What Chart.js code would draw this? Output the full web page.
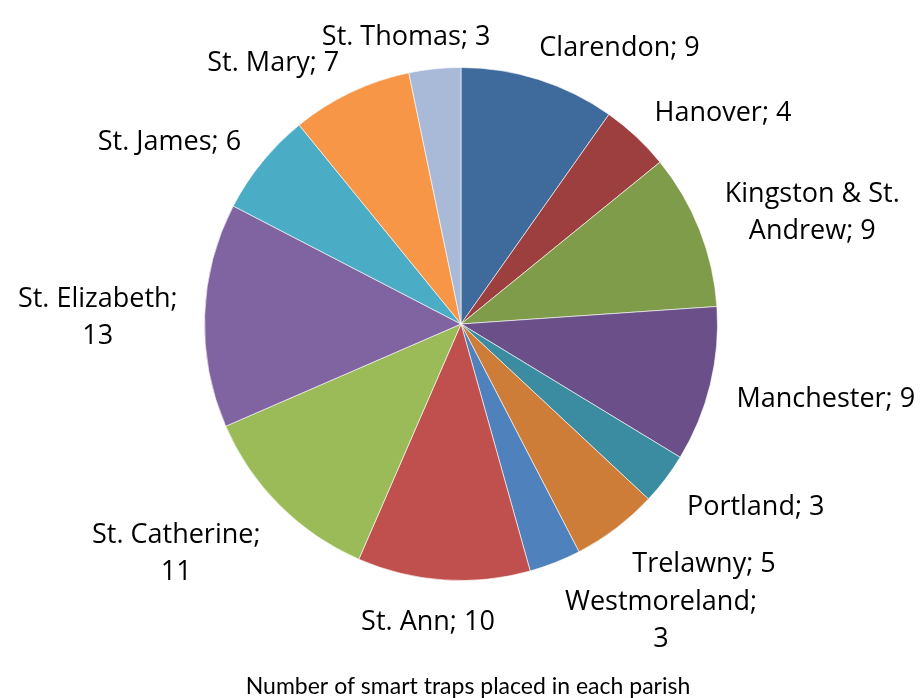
<!DOCTYPE html>
<html>
<head>
<meta charset="utf-8">
<script src="https://cdn.jsdelivr.net/npm/chart.js@4/dist/chart.umd.min.js"></script>
<style>
	html, body { margin: 0; padding: 0; background: #fff; }
	#wrap { width: 920px; height: 698px; position: relative; }
</style>
</head>
<body>
<div id="wrap"><canvas id="chart"></canvas></div>
<script>
const parishes = [
	"Clarendon", "Hanover", "Kingston & St. Andrew", "Manchester", "Portland", "Trelawny",
	"Westmoreland", "St. Ann", "St. Catherine", "St. Elizabeth", "St. James", "St. Mary", "St. Thomas",
];
const traps = [9, 4, 9, 9, 3, 5, 3, 10, 11, 13, 6, 7, 3];
// how each data label is broken into lines, as in the original
const labelLines = [
	["Clarendon; 9"], ["Hanover; 4"], ["Kingston & St.", "Andrew; 9"], ["Manchester; 9"],
	["Portland; 3"], ["Trelawny; 5"], ["Westmoreland;", "3"], ["St. Ann; 10"],
	["St. Catherine;", "11"], ["St. Elizabeth;", "13"], ["St. James; 6"], ["St. Mary; 7"], ["St. Thomas; 3"],
];
const sliceColors = [
	"#3F6A9C", "#9D3F3E", "#7F9C4A", "#6A4F88", "#3C8CA1", "#CE7D38",
	"#4F81BD", "#C0504D", "#9BBB59", "#8064A2", "#4BACC6", "#F79646", "#A9B9D8",
];
const chartTitle = "Number of smart traps placed in each parish";

const LABEL_FONT = "27px 'Open Sans'";
const TITLE_FONT = "23px Lato";
const LINE_H = 37;

const outsideLabels = {
	id: "outsideLabels",
	afterDraw(chart) {
		const { ctx } = chart;
		const meta = chart.getDatasetMeta(0);
		ctx.save();
		ctx.font = LABEL_FONT;
		ctx.fillStyle = "#000";
		ctx.textAlign = "center";
		ctx.textBaseline = "middle";
		meta.data.forEach((arc, i) => {
			const { x, y, startAngle, endAngle, outerRadius } = arc.getProps(["x", "y", "startAngle", "endAngle", "outerRadius"], true);
			const mid = (startAngle + endAngle) / 2;
			const ux = Math.cos(mid);
			const uy = Math.sin(mid);
			const px = x + (outerRadius + 27) * ux;
			const py = y + (outerRadius + 27) * uy + 5;
			const lines = labelLines[i];
			const w = Math.max(...lines.map((l) => ctx.measureText(l).width));
			const h = 20 + (lines.length - 1) * LINE_H;
			const cx = px + (w / 2) * Math.max(-1, Math.min(1, ux * 3));
			const cy = py + (h / 2) * Math.max(-1, Math.min(1, uy * 1.2));
			lines.forEach((l, j) => {
				ctx.fillText(l, cx, cy - (lines.length - 1) * LINE_H / 2 + LINE_H * j);
			});
		});
		ctx.font = TITLE_FONT;
		ctx.fillText(chartTitle, 468, 687);
		ctx.restore();
	},
};

function draw() {
	new Chart(document.getElementById("chart"), {
		type: "pie",
		data: {
			labels: parishes,
			datasets: [{
				data: traps,
				backgroundColor: sliceColors,
				borderColor: "rgba(255,255,255,0.6)",
				borderWidth: 1,
			}],
		},
		options: {
			responsive: true,
			maintainAspectRatio: false,
			animation: false,
			layout: { padding: { top: 67, bottom: 117, left: 204, right: 202 } },
			plugins: {
				legend: { display: false },
				tooltip: { enabled: false },
			},
		},
		plugins: [outsideLabels],
	});
}

Promise.all([document.fonts.load(LABEL_FONT), document.fonts.load(TITLE_FONT)]).then(draw, draw);
</script>
</body>
</html>
